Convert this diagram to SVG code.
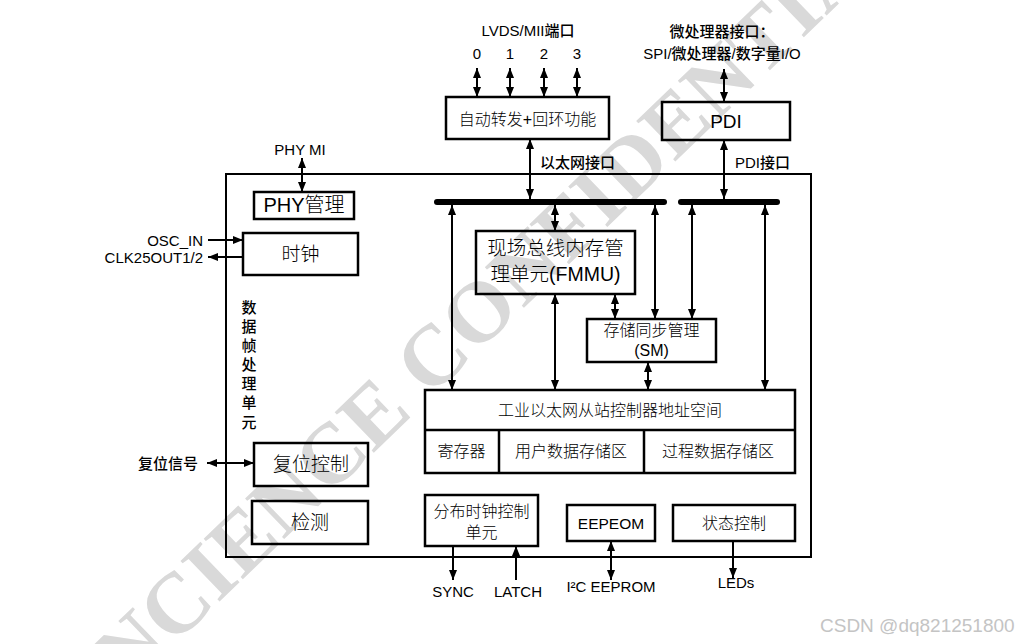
<svg xmlns="http://www.w3.org/2000/svg" width="1023" height="644" viewBox="0 0 1023 644">
<defs>
<style>
.bx{fill:none;stroke:#000;stroke-width:2.5}
.ob{fill:none;stroke:#000;stroke-width:2}
.c{stroke:#000;stroke-width:2;fill:none}
.bus{stroke:#000;stroke-width:6;stroke-linecap:round}
.lab{font-family:"Liberation Sans","Noto Sans CJK SC",sans-serif;font-size:15px;font-weight:500;fill:#000}
.bt{font-family:"Liberation Sans","Noto Sans CJK SC",sans-serif;font-weight:300;fill:#000}
.m{text-anchor:middle}
.e{text-anchor:end}
.wm{font-family:"Liberation Serif",serif;font-weight:bold;font-size:86px;fill:#d9d9d9}
.csdn{font-family:"Liberation Sans",sans-serif;font-size:19px;fill:#c4c4c4}
</style>
<marker id="ah" viewBox="0 0 10 8" markerWidth="10" markerHeight="8" refX="10" refY="4" orient="auto-start-reverse" markerUnits="userSpaceOnUse"><path d="M0,0 L10,4 L0,8 z" fill="#000"/></marker>
</defs>
<rect width="1023" height="644" fill="#fff"/>
<g id="watermark">
<text class="wm" transform="translate(128,690) rotate(-44)" textLength="1090" lengthAdjust="spacing">NCIENCE CONFIDENTIAL</text>
</g>
<g id="outer"><rect class="ob" x="226" y="174" width="585" height="383"/>
<text class="lab m" x="249" y="313">数</text>
<text class="lab m" x="249" y="332">据</text>
<text class="lab m" x="249" y="351">帧</text>
<text class="lab m" x="249" y="370">处</text>
<text class="lab m" x="249" y="389">理</text>
<text class="lab m" x="249" y="408">单</text>
<text class="lab m" x="249" y="428">元</text>
</g>
<g id="labels">
<text class="lab m" x="528" y="36">LVDS/MII端口</text>
<text class="lab m" x="477" y="59">0</text>
<text class="lab m" x="510" y="59">1</text>
<text class="lab m" x="544" y="59">2</text>
<text class="lab m" x="577" y="59">3</text>
<text class="lab" x="540" y="168">以太网接口</text>
<text class="lab m" x="722" y="37">微处理器接口：</text>
<text class="lab m" x="722" y="59">SPI/微处理器/数字量I/O</text>
<text class="lab" x="735" y="168">PDI接口</text>
<text class="lab m" x="300" y="155">PHY MI</text>
<text class="lab e" x="203" y="246">OSC_IN</text>
<text class="lab e" x="203" y="263">CLK25OUT1/2</text>
<text class="lab e" x="198" y="469">复位信号</text>
<text class="lab m" x="453" y="597">SYNC</text>
<text class="lab m" x="518" y="597">LATCH</text>
<text class="lab m" x="611" y="592">I²C EEPROM</text>
<text class="lab m" x="736" y="588">LEDs</text>
</g>
<g id="forward"><rect class="bx" x="446" y="97" width="163" height="42"/><text class="bt m" x="527.5" y="125" font-size="16">自动转发+回环功能</text></g>
<g id="pdi"><rect class="bx" x="662" y="102" width="128" height="38"/><text class="bt m" x="726" y="128" font-size="19">PDI</text></g>
<g id="phy"><rect class="bx" x="254" y="192" width="100" height="27"/><text class="bt m" x="304" y="212" font-size="20">PHY管理</text></g>
<g id="clock"><rect class="bx" x="243" y="233" width="115" height="42"/><text class="bt m" x="300.5" y="261" font-size="19">时钟</text></g>
<g id="reset"><rect class="bx" x="254" y="443" width="114" height="43"/><text class="bt m" x="311" y="471" font-size="19">复位控制</text></g>
<g id="detect"><rect class="bx" x="252" y="501" width="116" height="43"/><text class="bt m" x="310" y="529" font-size="19">检测</text></g>
<g id="fmmu"><rect class="bx" x="476" y="231" width="159" height="63"/><text class="bt m" x="555.5" y="254.5" font-size="19.5">现场总线内存管</text><text class="bt m" x="555.5" y="281" font-size="19.5">理单元(FMMU)</text></g>
<g id="sm"><rect class="bx" x="587" y="319" width="129" height="43"/><text class="bt m" x="651.5" y="336" font-size="16">存储同步管理</text><text class="bt m" x="651.5" y="356" font-size="16">(SM)</text></g>
<g id="addr"><rect class="bx" x="425" y="390" width="370" height="83"/>
<line class="bx" x1="425" y1="430" x2="795" y2="430"/><line class="bx" x1="499" y1="430" x2="499" y2="473"/><line class="bx" x1="644" y1="430" x2="644" y2="473"/>
<text class="bt m" x="610" y="416" font-size="16">工业以太网从站控制器地址空间</text>
<text class="bt m" x="461.5" y="456.5" font-size="16">寄存器</text>
<text class="bt m" x="571" y="456.5" font-size="16">用户数据存储区</text>
<text class="bt m" x="718" y="456.5" font-size="16">过程数据存储区</text></g>
<g id="dc"><rect class="bx" x="425" y="495" width="113" height="51"/><text class="bt m" x="481.5" y="516.5" font-size="16">分布时钟控制</text><text class="bt m" x="481.5" y="537.5" font-size="16">单元</text></g>
<g id="eeprom"><rect class="bx" x="567" y="505" width="88" height="36"/><text class="bt m" x="611" y="528.5" font-size="15.5">EEPEOM</text></g>
<g id="status"><rect class="bx" x="673" y="505" width="122" height="36"/><text class="bt m" x="734" y="528.5" font-size="16">状态控制</text></g>
<g id="connectors">
<line class="bus" x1="437" y1="202" x2="664" y2="202"/>
<line class="bus" x1="681" y1="202" x2="777" y2="202"/>
<g marker-start="url(#ah)" marker-end="url(#ah)">
<line class="c" x1="477" y1="68" x2="477" y2="97"/>
<line class="c" x1="510" y1="68" x2="510" y2="97"/>
<line class="c" x1="544" y1="68" x2="544" y2="97"/>
<line class="c" x1="577" y1="68" x2="577" y2="97"/>
<line class="c" x1="724" y1="69" x2="724" y2="102"/>
<line class="c" x1="530" y1="139" x2="530" y2="199"/>
<line class="c" x1="724" y1="140" x2="724" y2="199"/>
<line class="c" x1="302" y1="158" x2="302" y2="192"/>
<line class="c" x1="207" y1="463" x2="254" y2="463"/>
<line class="c" x1="452" y1="205" x2="452" y2="390"/>
<line class="c" x1="555" y1="205" x2="555" y2="231"/>
<line class="c" x1="655" y1="205" x2="655" y2="319"/>
<line class="c" x1="692" y1="205" x2="692" y2="319"/>
<line class="c" x1="765" y1="205" x2="765" y2="390"/>
<line class="c" x1="555" y1="294" x2="555" y2="390"/>
<line class="c" x1="615" y1="294" x2="615" y2="319"/>
<line class="c" x1="648" y1="362" x2="648" y2="390"/>
<line class="c" x1="611" y1="541" x2="611" y2="580"/>
</g>
<g marker-end="url(#ah)">
<line class="c" x1="208" y1="240" x2="243" y2="240"/>
<line class="c" x1="243" y1="257" x2="208" y2="257"/>
<line class="c" x1="453" y1="546" x2="453" y2="580"/>
<line class="c" x1="516" y1="580" x2="516" y2="546"/>
<line class="c" x1="733" y1="541" x2="733" y2="578"/>
</g>
</g>
<text class="csdn" x="820" y="632">CSDN @dq821251800</text>
</svg>
